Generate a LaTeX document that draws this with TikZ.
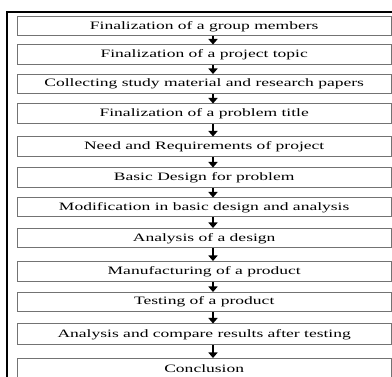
\documentclass[tikz,border=0pt]{standalone}
\usepackage{fontspec}
\setmainfont{Liberation Serif}
\usepackage{graphicx}
\usetikzlibrary{arrows.meta}
\tikzset{
  stepbox/.style={draw=black!55, line width=1pt, fill=white, minimum width=373.7pt, inner sep=0pt, anchor=center, font=\fontsize{11.3}{12}\selectfont},
  flowarrow/.style={line width=2pt, -{Triangle[width=9pt,length=5.5pt]}},
  frameline/.style={line width=2pt, black}
}
\newcommand{\wtxt}[1]{\scalebox{1.55}[1]{#1}}
\begin{document}
\begin{tikzpicture}[x=1pt,y=-1pt]
\useasboundingbox (0,0) rectangle (392,377);
\clip (0,0) rectangle (392,377);
\fill[white] (0,0) rectangle (392,377);
\draw[frameline] (7,420) -- (7,12) -- (420,12);
\coordinate (ax) at (213,0);
\node[stepbox, minimum height=19pt]   (b1)  at (204.2,26.5)  {\wtxt{Finalization of a group members}};
\node[stepbox, minimum height=19.5pt] (b2)  at (204.2,54.75) {\wtxt{Finalization of a project topic}};
\node[stepbox, minimum height=19.5pt] (b3)  at (204.2,84.25) {\wtxt{Collecting study material and research papers}};
\node[stepbox, minimum height=19.5pt] (b4)  at (204.2,113.75) {\wtxt{Finalization of a problem title}};
\node[stepbox, minimum height=20pt]   (b5)  at (204.2,147)   {\wtxt{Need and Requirements of project}};
\node[stepbox, minimum height=19.5pt] (b6)  at (204.2,177.75) {\wtxt{Basic Design for problem}};
\node[stepbox, minimum height=19pt]   (b7)  at (204.2,207.5) {\wtxt{Modification in basic design and analysis}};
\node[stepbox, minimum height=19.5pt] (b8)  at (204.2,238.25) {\wtxt{Analysis of a design}};
\node[stepbox, minimum height=20.5pt] (b9)  at (204.2,271.75) {\wtxt{Manufacturing of a product}};
\node[stepbox, minimum height=19.2pt] (b10) at (204.2,302.1) {\wtxt{Testing of a product}};
\node[stepbox, minimum height=21pt]   (b11) at (204.2,334.5) {\wtxt{Analysis and compare results after testing}};
\node[stepbox, minimum height=21pt]   (b12) at (204.2,369)   {\wtxt{Conclusion}};
\foreach \a/\b in {b1/b2,b2/b3,b3/b4,b4/b5,b5/b6,b6/b7,b7/b8,b8/b9,b9/b10,b10/b11,b11/b12}
  \draw[flowarrow] (\a.south -| ax) -- (\b.north -| ax);
\end{tikzpicture}
\end{document}
